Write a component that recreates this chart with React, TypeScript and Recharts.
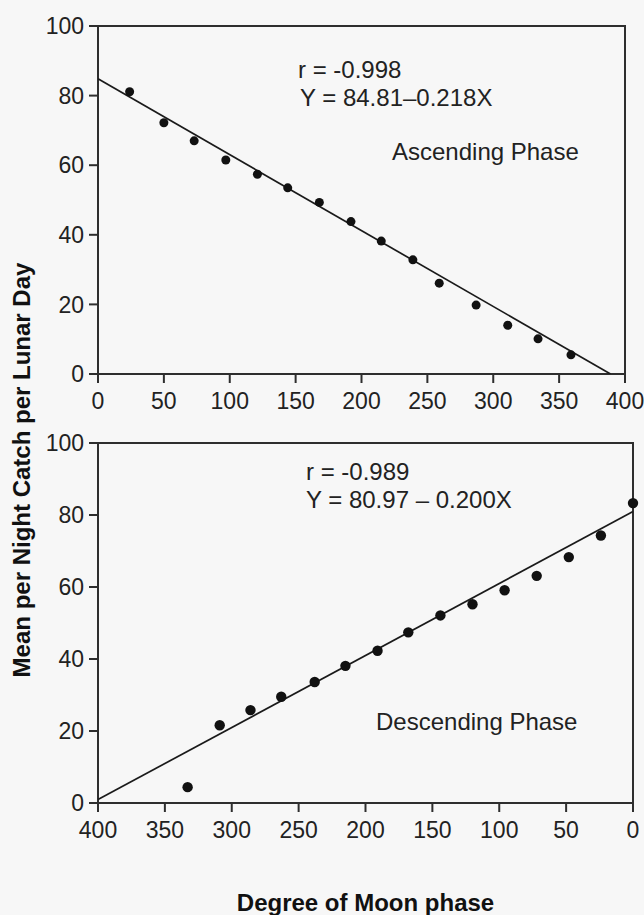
import { ScatterChart, Scatter, XAxis, YAxis, ReferenceArea } from "recharts";

// ascending phase (top panel)
const ascDeg = [24, 50, 73, 97, 121, 144, 168, 192, 215, 239, 259, 287, 311, 334, 359];
const ascCatch = [81.1, 72.2, 67.0, 61.5, 57.4, 53.5, 49.3, 43.8, 38.2, 32.8, 26.1, 19.8, 14.0, 10.1, 5.5];
const ascFitDeg = [0, 389];
const ascFitCatch = [84.81, 0];

// descending phase (bottom panel)
const descDeg = [333, 309, 286, 263, 238, 215, 191, 168, 144, 120, 96, 72, 48, 24, 0];
const descCatch = [4.4, 21.6, 25.8, 29.5, 33.6, 38.1, 42.3, 47.4, 52.1, 55.2, 59.1, 63.1, 68.3, 74.3, 83.3];
const descFitDeg = [400, 0];
const descFitCatch = [0.97, 80.97];

const degTicks = [0, 50, 100, 150, 200, 250, 300, 350, 400];
const catchTicks = [0, 20, 40, 60, 80, 100];

const FONT = "'Liberation Sans', Arial, sans-serif";
const INK = "#222";

const toPoints = (xs: number[], ys: number[]) => xs.map((x, i) => ({ x, y: ys[i] }));

const tickStyle = { fontSize: 23, fill: INK, fontFamily: FONT };
const axisLine = { stroke: "#2e2e2e", strokeWidth: 2 };

const noDot = () => <g />;

function Note({ left, top, children }: { left: number; top: number; children: string }) {
  return (
    <div
      style={{
        position: "absolute",
        left,
        top,
        fontFamily: FONT,
        fontSize: 24,
        lineHeight: "24px",
        color: INK,
        whiteSpace: "nowrap",
      }}
    >
      {children}
    </div>
  );
}

export default function App() {
  const asc = toPoints(ascDeg, ascCatch);
  const ascFit = toPoints(ascFitDeg, ascFitCatch);
  const desc = toPoints(descDeg, descCatch);
  const descFit = toPoints(descFitDeg, descFitCatch);

  return (
    <div style={{ position: "absolute", left: 0, top: 0, width: 644, height: 915, background: "#f7f7f7", overflow: "hidden" }}>
      {/* top panel */}
      <div style={{ position: "absolute", left: 0, top: 0 }}>
        <ScatterChart width={644} height={420} margin={{ top: 26, right: 19, bottom: 6, left: 0 }}>
          <XAxis
            type="number"
            dataKey="x"
            domain={[0, 400]}
            ticks={degTicks}
            height={40}
            tick={tickStyle}
            tickSize={9}
            tickMargin={10}
            axisLine={axisLine}
            tickLine={axisLine}
            allowDataOverflow
          />
          <YAxis
            type="number"
            dataKey="y"
            domain={[0, 100]}
            ticks={catchTicks}
            width={98}
            tick={tickStyle}
            tickSize={9}
            tickMargin={5}
            axisLine={axisLine}
            tickLine={axisLine}
            allowDataOverflow
          />
          <ReferenceArea x1={0} x2={400} y1={0} y2={100} fill="none" stroke="#2e2e2e" strokeWidth={2} />
          <Scatter data={ascFit} line={{ stroke: "#1a1a1a", strokeWidth: 1.7 }} shape={noDot} isAnimationActive={false} />
          <Scatter data={asc} fill="#111" shape={(p: any) => <circle cx={p.cx} cy={p.cy} r={4.5} fill="#111" />} isAnimationActive={false} />
        </ScatterChart>
      </div>

      {/* bottom panel */}
      <div style={{ position: "absolute", left: 0, top: 410 }}>
        <ScatterChart width={644} height={505} margin={{ top: 33, right: 11, bottom: 0, left: 0 }}>
          <XAxis
            type="number"
            dataKey="x"
            domain={[0, 400]}
            ticks={degTicks}
            reversed
            height={112}
            tick={tickStyle}
            tickSize={9}
            tickMargin={10}
            axisLine={axisLine}
            tickLine={axisLine}
            label={{
              value: "Degree of Moon phase",
              position: "insideBottom",
              offset: 4,
              style: { fontSize: 24, fontWeight: 700, fill: "#111", fontFamily: FONT },
            }}
          />
          <YAxis
            type="number"
            dataKey="y"
            domain={[0, 100]}
            ticks={catchTicks}
            width={98}
            tick={tickStyle}
            tickSize={9}
            tickMargin={5}
            axisLine={axisLine}
            tickLine={axisLine}
          />
          <ReferenceArea x1={0} x2={400} y1={0} y2={100} fill="none" stroke="#2e2e2e" strokeWidth={2} />
          <Scatter data={descFit} line={{ stroke: "#1a1a1a", strokeWidth: 1.7 }} shape={noDot} isAnimationActive={false} />
          <Scatter data={desc} fill="#111" shape={(p: any) => <circle cx={p.cx} cy={p.cy} r={5.2} fill="#111" />} isAnimationActive={false} />
        </ScatterChart>
      </div>

      {/* shared y-axis title */}
      <div
        style={{
          position: "absolute",
          left: 22,
          top: 470,
          transform: "translate(-50%, -50%) rotate(-90deg)",
          whiteSpace: "nowrap",
          fontFamily: FONT,
          fontWeight: 700,
          fontSize: 24,
          color: "#111",
        }}
      >
        Mean per Night Catch per Lunar Day
      </div>

      <Note left={298} top={58}>r = -0.998</Note>
      <Note left={300} top={86}>Y = 84.81–0.218X</Note>
      <Note left={392} top={140}>Ascending Phase</Note>
      <Note left={306} top={460}>r = -0.989</Note>
      <Note left={306} top={488}>Y = 80.97 – 0.200X</Note>
      <Note left={376} top={710}>Descending Phase</Note>
    </div>
  );
}
